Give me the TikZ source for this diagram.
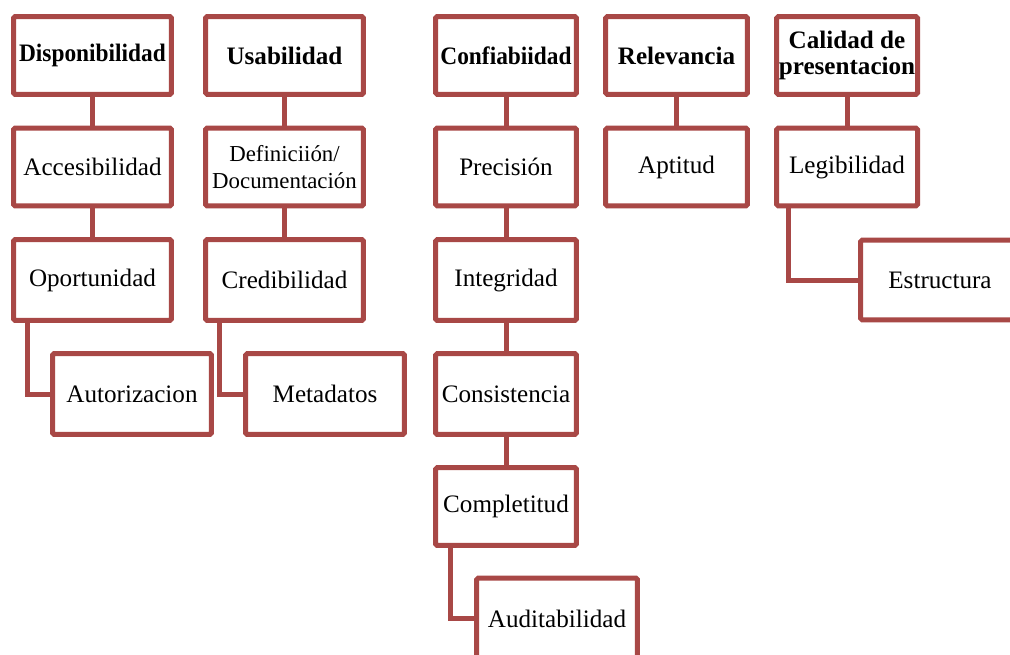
\documentclass[tikz,border=0pt]{standalone}
\usepackage{fontspec}
\setmainfont{Liberation Serif}
\usepackage{graphicx}
\usepackage{tikz}
\definecolor{boxred}{RGB}{168,72,70}

\begin{document}
\begin{tikzpicture}[x=0.02cm,y=0.02cm]
\tikzstyle{box}=[draw=boxred,fill=white,line width=0.1cm,rounded corners=1pt,
  minimum height=1.56cm,inner sep=1pt,align=center,
  font=\fontsize{14.3}{15.5}\selectfont]
\tikzstyle{head}=[box,font=\fontsize{14.3}{14.5}\selectfont\bfseries]
\tikzstyle{link}=[draw=boxred,line width=0.1cm]
\clip (0,0) rectangle (1010,-655);
% first column
\node [head,minimum width=3.16cm] (disp) at (92.5,-55.5) {\scalebox{0.93}[1]{Disponibilidad}};
\node [box,minimum width=3.16cm] (acce) at (92.5,-167) {Accesibilidad};
\node [box,minimum width=3.16cm,minimum height=1.62cm] (opor) at (92.5,-280) {Oportunidad};
\node [box,minimum width=3.18cm,minimum height=1.62cm] (auto) at (132,-394) {Autorizacion};
% second column
\node [head,minimum width=3.16cm] (usab) at (284.5,-55.5) {Usabilidad};
\node [box,minimum width=3.16cm] (defi) at (284.5,-167) {\fontsize{13}{14.8}\selectfont Definiciión/\\\fontsize{13}{14.8}\selectfont Documentación};
\node [box,minimum width=3.16cm,minimum height=1.62cm] (cred) at (284.5,-280) {Credibilidad};
\node [box,minimum width=3.18cm,minimum height=1.62cm] (meta) at (325,-394) {Metadatos};
% third column
\node [head,minimum width=2.82cm] (conf) at (506,-55.5) {\scalebox{0.93}[1]{Confiabiidad}};
\node [box,minimum width=2.82cm] (prec) at (506,-167) {Precisión};
\node [box,minimum width=2.82cm,minimum height=1.62cm] (inte) at (506,-280) {Integridad};
\node [box,minimum width=2.82cm,minimum height=1.62cm] (cons) at (506,-394) {Consistencia};
\node [box,minimum width=2.82cm] (comp) at (506,-506.5) {Completitud};
\node [box,minimum width=3.22cm,minimum height=1.62cm] (audi) at (557,-618.5) {Auditabilidad};
% fourth column
\node [head,minimum width=2.84cm] (rele) at (676.5,-55.5) {Relevancia};
\node [box,minimum width=2.84cm] (apti) at (676.5,-167) {Aptitud};
% fifth column
\node [head,minimum width=2.82cm] (cali) at (847,-55.5) {Calidad de\\presentacion};
\node [box,minimum width=2.82cm] (legi) at (847,-167) {Legibilidad};
\node [box,minimum width=3.18cm,minimum height=1.60cm] (estr) at (940,-280) {Estructura};
% links
\draw [link] (disp.south) -- (acce.north);
\draw [link] (acce.south) -- (opor.north);
\draw [link] ([xshift=0.33cm]opor.south west) |- (auto.west);
\draw [link] (usab.south) -- (defi.north);
\draw [link] (defi.south) -- (cred.north);
\draw [link] ([xshift=0.33cm]cred.south west) |- (meta.west);
\draw [link] (conf.south) -- (prec.north);
\draw [link] (prec.south) -- (inte.north);
\draw [link] (inte.south) -- (cons.north);
\draw [link] (cons.south) -- (comp.north);
\draw [link] ([xshift=0.35cm]comp.south west) |- (audi.west);
\draw [link] (rele.south) -- (apti.north);
\draw [link] (cali.south) -- (legi.north);
\draw [link] ([xshift=0.28cm]legi.south west) |- (estr.west);
\end{tikzpicture}
\end{document}
